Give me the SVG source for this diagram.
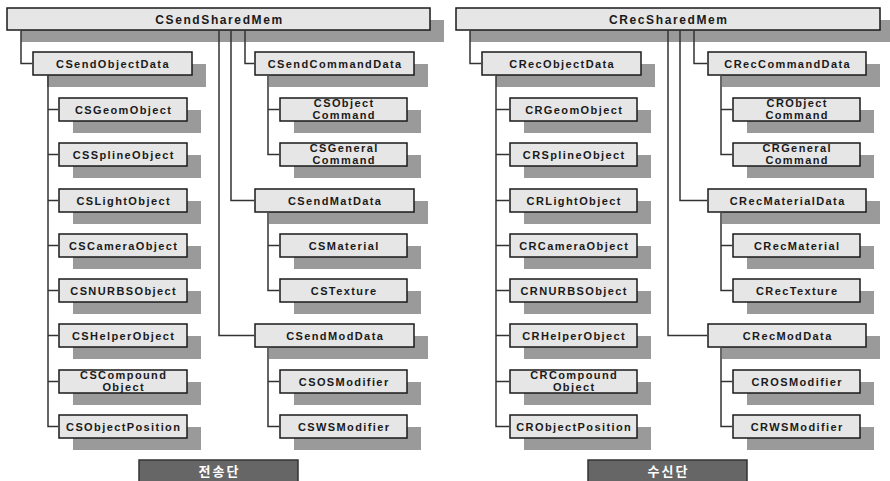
<svg xmlns="http://www.w3.org/2000/svg" width="890" height="481" viewBox="0 0 890 481">
<style>
.sh{fill:#9a9a9a}
.bx{fill:#e6e6e6;stroke:#1a1a1a;stroke-width:1.5}
.t{font-family:"Liberation Sans",Arial,sans-serif;font-weight:bold;font-size:11px;letter-spacing:1.4px;text-anchor:middle;fill:#1a1a1a}
.tt{font-size:12px;letter-spacing:1.6px}
.c{fill:none;stroke:#333;stroke-width:1.5}
.lb{fill:#666;stroke:#333;stroke-width:1.5}
.lt{font-family:"Noto Sans CJK KR","Noto Sans",sans-serif;font-weight:bold;font-size:13px;letter-spacing:2px;text-anchor:middle;fill:#fff}
</style>
<rect width="890" height="481" fill="#fff"/>
<!-- shadows for top boxes are inside node groups -->
<g id="n_CSendSharedMem"><rect class="sh" x="21" y="20" width="423" height="22"/><rect class="bx" x="7" y="8" width="423" height="22"/><text class="t tt" x="219.5" y="23.5">CSendSharedMem</text></g>
<g id="n_CSendObjectData"><rect class="sh" x="47" y="64" width="159" height="23"/><rect class="bx" x="33" y="52" width="159" height="23"/><text class="t" x="113" y="67.5">CSendObjectData</text></g>
<g id="n_CSGeomObject"><rect class="sh" x="73" y="110" width="128" height="23"/><rect class="bx" x="59" y="98" width="128" height="23"/><text class="t" x="123.7" y="113.5">CSGeomObject</text></g>
<g id="n_CSSplineObject"><rect class="sh" x="73" y="155" width="128" height="23"/><rect class="bx" x="59" y="143" width="128" height="23"/><text class="t" x="123.7" y="158.5">CSSplineObject</text></g>
<g id="n_CSLightObject"><rect class="sh" x="73" y="201" width="128" height="23"/><rect class="bx" x="59" y="189" width="128" height="23"/><text class="t" x="123.7" y="204.5">CSLightObject</text></g>
<g id="n_CSCameraObject"><rect class="sh" x="73" y="246" width="128" height="23"/><rect class="bx" x="59" y="234" width="128" height="23"/><text class="t" x="123.7" y="249.5">CSCameraObject</text></g>
<g id="n_CSNURBSObject"><rect class="sh" x="73" y="291" width="128" height="23"/><rect class="bx" x="59" y="279" width="128" height="23"/><text class="t" x="123.7" y="294.5">CSNURBSObject</text></g>
<g id="n_CSHelperObject"><rect class="sh" x="73" y="336" width="128" height="23"/><rect class="bx" x="59" y="324" width="128" height="23"/><text class="t" x="123.7" y="339.5">CSHelperObject</text></g>
<g id="n_CSCompoundObject"><rect class="sh" x="73" y="382" width="128" height="23"/><rect class="bx" x="59" y="370" width="128" height="23"/><text class="t" x="123.7" y="378.5">CSCompound</text><text class="t" x="123.7" y="390.5">Object</text></g>
<g id="n_CSObjectPosition"><rect class="sh" x="73" y="427" width="128" height="23"/><rect class="bx" x="59" y="415" width="128" height="23"/><text class="t" x="123.7" y="430.5">CSObjectPosition</text></g>
<g id="n_CSendCommandData"><rect class="sh" x="269" y="64" width="159" height="23"/><rect class="bx" x="255" y="52" width="159" height="23"/><text class="t" x="335.2" y="67.5">CSendCommandData</text></g>
<g id="n_CSObjectCommand"><rect class="sh" x="294" y="110" width="127" height="23"/><rect class="bx" x="280" y="98" width="127" height="23"/><text class="t" x="344.2" y="106.5">CSObject</text><text class="t" x="344.2" y="118.5">Command</text></g>
<g id="n_CSGeneralCommand"><rect class="sh" x="294" y="155" width="127" height="23"/><rect class="bx" x="280" y="143" width="127" height="23"/><text class="t" x="344.2" y="151.5">CSGeneral</text><text class="t" x="344.2" y="163.5">Command</text></g>
<g id="n_CSendMatData"><rect class="sh" x="269" y="201" width="159" height="23"/><rect class="bx" x="255" y="189" width="159" height="23"/><text class="t" x="335.2" y="204.5">CSendMatData</text></g>
<g id="n_CSMaterial"><rect class="sh" x="294" y="246" width="127" height="23"/><rect class="bx" x="280" y="234" width="127" height="23"/><text class="t" x="344.2" y="249.5">CSMaterial</text></g>
<g id="n_CSTexture"><rect class="sh" x="294" y="291" width="127" height="23"/><rect class="bx" x="280" y="279" width="127" height="23"/><text class="t" x="344.2" y="294.5">CSTexture</text></g>
<g id="n_CSendModData"><rect class="sh" x="269" y="336" width="159" height="23"/><rect class="bx" x="255" y="324" width="159" height="23"/><text class="t" x="335.2" y="339.5">CSendModData</text></g>
<g id="n_CSOSModifier"><rect class="sh" x="294" y="382" width="127" height="23"/><rect class="bx" x="280" y="370" width="127" height="23"/><text class="t" x="344.2" y="385.5">CSOSModifier</text></g>
<g id="n_CSWSModifier"><rect class="sh" x="294" y="427" width="127" height="23"/><rect class="bx" x="280" y="415" width="127" height="23"/><text class="t" x="344.2" y="430.5">CSWSModifier</text></g>
<g id="n_label_send"><rect class="lb" x="139" y="460" width="159" height="25"/><text class="lt" x="219.5" y="476">전송단</text></g>

<g id="n_CRecSharedMem"><rect class="sh" x="470" y="20" width="424" height="22"/><rect class="bx" x="456" y="8" width="424" height="22"/><text class="t tt" x="668.8" y="23.5">CRecSharedMem</text></g>
<g id="n_CRecObjectData"><rect class="sh" x="496" y="64" width="159" height="23"/><rect class="bx" x="482" y="52" width="159" height="23"/><text class="t" x="562.2" y="67.5">CRecObjectData</text></g>
<g id="n_CRGeomObject"><rect class="sh" x="524" y="110" width="127" height="23"/><rect class="bx" x="510" y="98" width="127" height="23"/><text class="t" x="574.2" y="113.5">CRGeomObject</text></g>
<g id="n_CRSplineObject"><rect class="sh" x="524" y="155" width="127" height="23"/><rect class="bx" x="510" y="143" width="127" height="23"/><text class="t" x="574.2" y="158.5">CRSplineObject</text></g>
<g id="n_CRLightObject"><rect class="sh" x="524" y="201" width="127" height="23"/><rect class="bx" x="510" y="189" width="127" height="23"/><text class="t" x="574.2" y="204.5">CRLightObject</text></g>
<g id="n_CRCameraObject"><rect class="sh" x="524" y="246" width="127" height="23"/><rect class="bx" x="510" y="234" width="127" height="23"/><text class="t" x="574.2" y="249.5">CRCameraObject</text></g>
<g id="n_CRNURBSObject"><rect class="sh" x="524" y="291" width="127" height="23"/><rect class="bx" x="510" y="279" width="127" height="23"/><text class="t" x="574.2" y="294.5">CRNURBSObject</text></g>
<g id="n_CRHelperObject"><rect class="sh" x="524" y="336" width="127" height="23"/><rect class="bx" x="510" y="324" width="127" height="23"/><text class="t" x="574.2" y="339.5">CRHelperObject</text></g>
<g id="n_CRCompoundObject"><rect class="sh" x="524" y="382" width="127" height="23"/><rect class="bx" x="510" y="370" width="127" height="23"/><text class="t" x="574.2" y="378.5">CRCompound</text><text class="t" x="574.2" y="390.5">Object</text></g>
<g id="n_CRObjectPosition"><rect class="sh" x="524" y="427" width="127" height="23"/><rect class="bx" x="510" y="415" width="127" height="23"/><text class="t" x="574.2" y="430.5">CRObjectPosition</text></g>
<g id="n_CRecCommandData"><rect class="sh" x="722" y="64" width="158" height="23"/><rect class="bx" x="708" y="52" width="158" height="23"/><text class="t" x="787.7" y="67.5">CRecCommandData</text></g>
<g id="n_CRObjectCommand"><rect class="sh" x="747" y="110" width="127" height="23"/><rect class="bx" x="733" y="98" width="127" height="23"/><text class="t" x="797.2" y="106.5">CRObject</text><text class="t" x="797.2" y="118.5">Command</text></g>
<g id="n_CRGeneralCommand"><rect class="sh" x="747" y="155" width="127" height="23"/><rect class="bx" x="733" y="143" width="127" height="23"/><text class="t" x="797.2" y="151.5">CRGeneral</text><text class="t" x="797.2" y="163.5">Command</text></g>
<g id="n_CRecMaterialData"><rect class="sh" x="722" y="201" width="158" height="23"/><rect class="bx" x="708" y="189" width="158" height="23"/><text class="t" x="787.7" y="204.5">CRecMaterialData</text></g>
<g id="n_CRecMaterial"><rect class="sh" x="747" y="246" width="127" height="23"/><rect class="bx" x="733" y="234" width="127" height="23"/><text class="t" x="797.2" y="249.5">CRecMaterial</text></g>
<g id="n_CRecTexture"><rect class="sh" x="747" y="291" width="127" height="23"/><rect class="bx" x="733" y="279" width="127" height="23"/><text class="t" x="797.2" y="294.5">CRecTexture</text></g>
<g id="n_CRecModData"><rect class="sh" x="722" y="336" width="158" height="23"/><rect class="bx" x="708" y="324" width="158" height="23"/><text class="t" x="787.7" y="339.5">CRecModData</text></g>
<g id="n_CROSModifier"><rect class="sh" x="747" y="382" width="127" height="23"/><rect class="bx" x="733" y="370" width="127" height="23"/><text class="t" x="797.2" y="385.5">CROSModifier</text></g>
<g id="n_CRWSModifier"><rect class="sh" x="747" y="427" width="127" height="23"/><rect class="bx" x="733" y="415" width="127" height="23"/><text class="t" x="797.2" y="430.5">CRWSModifier</text></g>
<g id="n_label_recv"><rect class="lb" x="588" y="460" width="159" height="25"/><text class="lt" x="668.5" y="476">수신단</text></g>

<g id="connectors" class="c">
<path d="M21,30.75V63.5H32.25"/>
<path d="M245,30.75V63.5H254.25"/>
<path d="M231,30.75V200.5H254.25"/>
<path d="M219,30.75V335.5H254.25"/>
<path d="M48,75.75V426.5H58.25M48,109.5H58.25M48,154.5H58.25M48,200.5H58.25M48,245.5H58.25M48,290.5H58.25M48,335.5H58.25M48,381.5H58.25"/>
<path d="M268,75.75V154.5H279.25M268,109.5H279.25"/>
<path d="M268,212.75V290.5H279.25M268,245.5H279.25"/>
<path d="M268,347.75V426.5H279.25M268,381.5H279.25"/>
<path d="M470,30.75V63.5H481.25"/>
<path d="M694,30.75V63.5H707.25"/>
<path d="M680,30.75V200.5H707.25"/>
<path d="M668,30.75V335.5H707.25"/>
<path d="M496,75.75V426.5H509.25M496,109.5H509.25M496,154.5H509.25M496,200.5H509.25M496,245.5H509.25M496,290.5H509.25M496,335.5H509.25M496,381.5H509.25"/>
<path d="M721,75.75V154.5H732.25M721,109.5H732.25"/>
<path d="M721,212.75V290.5H732.25M721,245.5H732.25"/>
<path d="M721,347.75V426.5H732.25M721,381.5H732.25"/>
</g>
</svg>
